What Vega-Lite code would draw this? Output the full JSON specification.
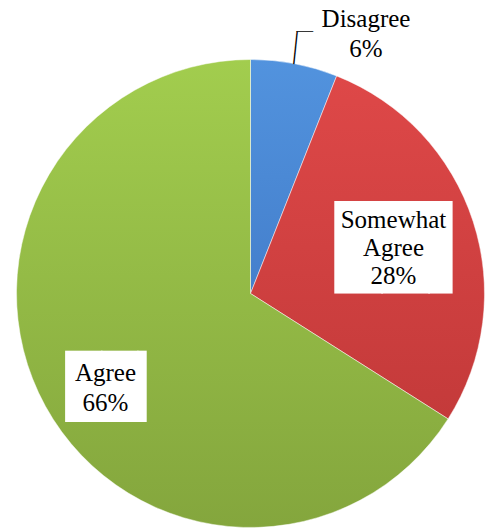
{
  "$schema": "https://vega.github.io/schema/vega-lite/v6.json",
  "width": 468,
  "height": 468,
  "autosize": {"type": "none"},
  "padding": {"left": 16.5, "top": 59.5, "right": 0, "bottom": 0},
  "background": "white",
  "view": {"stroke": null},
  "data": {
    "values": [
      {"answer": "Disagree", "share": 6, "label": "Disagree\n6%"},
      {"answer": "Somewhat Agree", "share": 28, "label": "Somewhat\nAgree\n28%"},
      {"answer": "Agree", "share": 66, "label": "Agree\n66%"}
    ]
  },
  "encoding": {
    "theta": {"field": "share", "type": "quantitative", "stack": true},
    "order": {"field": "share", "type": "quantitative", "sort": "ascending"}
  },
  "layer": [
    {
      "mark": {"type": "arc", "radius": 234, "stroke": "#ffffff", "strokeWidth": 0.8, "strokeOpacity": 0.6},
      "encoding": {
        "color": {
          "condition": [
            {"test": "datum.answer === 'Disagree'", "value": {"gradient": "linear", "x1": 0, "y1": 0, "x2": 0, "y2": 1, "stops": [{"offset": 0, "color": "#5293de"}, {"offset": 1, "color": "#447fcc"}]}},
            {"test": "datum.answer === 'Somewhat Agree'", "value": {"gradient": "linear", "x1": 0, "y1": 0, "x2": 0, "y2": 1, "stops": [{"offset": 0, "color": "#de4848"}, {"offset": 1, "color": "#c43a3a"}]}}
          ],
          "value": {"gradient": "linear", "x1": 0, "y1": 0, "x2": 0, "y2": 1, "stops": [{"offset": 0, "color": "#a2cd4e"}, {"offset": 1, "color": "#84a63d"}]}
        }
      }
    },
    {
      "mark": {"type": "text", "radius": 150, "font": "DejaVu Sans Mono", "fontSize": 78, "align": "center", "baseline": "middle", "color": "white", "dx": 12.6, "dy": 3.5},
      "encoding": {
        "text": {"condition": {"test": "datum.answer === 'Somewhat Agree'", "value": "██▌"}, "value": ""}
      }
    },
    {
      "mark": {"type": "text", "radius": 165, "font": "DejaVu Sans Mono", "fontSize": 60, "align": "center", "baseline": "middle", "color": "white", "dx": 13.7, "dy": 15.8},
      "encoding": {
        "text": {"condition": {"test": "datum.answer === 'Agree'", "value": "██▎"}, "value": ""}
      }
    },
    {
      "mark": {"type": "text", "radius": 150, "font": "Liberation Serif", "fontSize": 25, "lineHeight": 28, "lineBreak": "\n", "align": "center", "baseline": "middle", "color": "black", "dx": 0.3, "dy": -27.6},
      "encoding": {
        "text": {"condition": {"test": "datum.answer === 'Somewhat Agree'", "field": "label"}, "value": ""}
      }
    },
    {
      "mark": {"type": "text", "radius": 165, "font": "Liberation Serif", "fontSize": 25, "lineHeight": 30, "lineBreak": "\n", "align": "center", "baseline": "middle", "color": "black", "dx": -0.4, "dy": -0.3},
      "encoding": {
        "text": {"condition": {"test": "datum.answer === 'Agree'", "field": "label"}, "value": ""}
      }
    },
    {
      "mark": {"type": "text", "radius": 262, "font": "Liberation Serif", "fontSize": 25, "lineHeight": 30, "lineBreak": "\n", "align": "center", "baseline": "middle", "color": "black", "dx": 66.4, "dy": -17.1},
      "encoding": {
        "text": {"condition": {"test": "datum.answer === 'Disagree'", "field": "label"}, "value": ""}
      }
    },
    {
      "mark": {"type": "text", "radius": 250, "font": "Noto Sans CJK SC", "fontSize": 33, "align": "center", "baseline": "middle", "color": "black", "angle": 6, "dx": -1.85, "dy": 2.5},
      "encoding": {
        "text": {"condition": {"test": "datum.answer === 'Disagree'", "value": "│"}, "value": ""}
      }
    },
    {
      "mark": {"type": "text", "radius": 250, "font": "Noto Sans CJK SC", "fontSize": 17, "align": "center", "baseline": "middle", "color": "black", "dx": 7.5, "dy": -14.8},
      "encoding": {
        "text": {"condition": {"test": "datum.answer === 'Disagree'", "value": "─"}, "value": ""}
      }
    }
  ]
}
